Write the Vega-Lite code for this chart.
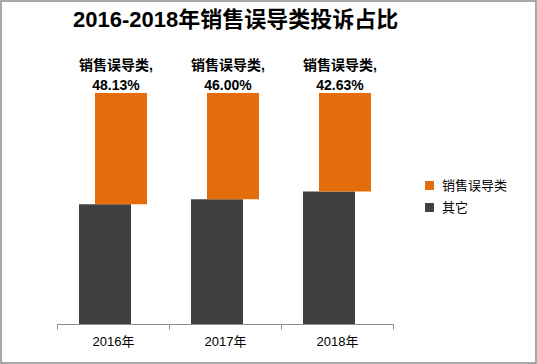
{
  "$schema": "https://vega.github.io/schema/vega-lite/v6.json",
  "width": 535,
  "height": 362,
  "padding": 1,
  "autosize": {"type": "none"},
  "background": "white",
  "config": {
    "view": {"stroke": "#8c8c8c", "strokeWidth": 1.5},
    "font": "Liberation Sans, Noto Sans CJK SC"
  },
  "title": {
    "text": "2016-2018年销售误导类投诉占比",
    "orient": "none",
    "anchor": "start",
    "dx": 72,
    "dy": 31,
    "baseline": "bottom",
    "font": "Liberation Sans, Noto Sans CJK SC",
    "fontSize": 22,
    "fontWeight": "bold",
    "color": "#000000"
  },
  "data": {
    "values": [
      {"year": "2016年", "series": "其它", "value": 0.5187},
      {"year": "2016年", "series": "销售误导类", "value": 0.4813},
      {"year": "2017年", "series": "其它", "value": 0.54},
      {"year": "2017年", "series": "销售误导类", "value": 0.46},
      {"year": "2018年", "series": "其它", "value": 0.5737},
      {"year": "2018年", "series": "销售误导类", "value": 0.4263}
    ]
  },
  "transform": [
    {"stack": "value", "groupby": ["year"], "sort": [{"field": "series", "order": "ascending"}], "as": ["v0", "v1"]}
  ],
  "encoding": {
    "x": {
      "field": "year",
      "type": "nominal",
      "scale": {"type": "band", "range": [56, 392], "paddingInner": 0, "paddingOuter": 0},
      "axis": {
        "title": null,
        "offset": -39,
        "labelAngle": 0,
        "labelFontSize": 13,
        "labelColor": "#000000",
        "labelPadding": 6,
        "domainColor": "#8c8c8c",
        "tickColor": "#8c8c8c",
        "tickSize": 5,
        "tickBand": "extent",
        "grid": false
      }
    }
  },
  "layer": [
    {
      "transform": [{"filter": "datum.series === '其它'"}],
      "mark": {"type": "bar", "width": 52, "xOffset": -8},
      "encoding": {
        "y": {"field": "v0", "type": "quantitative", "scale": {"domain": [0, 1], "range": [323, 92]}, "axis": null},
        "y2": {"field": "v1"},
        "color": {
          "field": "series",
          "type": "nominal",
          "scale": {"domain": ["销售误导类", "其它"], "range": ["#E46C0A", "#404040"]},
          "legend": {
            "title": null,
            "orient": "none",
            "legendX": 422,
            "legendY": 178,
            "symbolType": "square",
            "symbolSize": 80,
            "symbolStrokeWidth": 0,
            "labelFontSize": 13,
            "labelColor": "#000000",
            "labelFont": "Noto Sans CJK SC",
            "rowPadding": 8,
            "labelOffset": 6
          }
        }
      }
    },
    {
      "transform": [{"filter": "datum.series === '销售误导类'"}],
      "mark": {"type": "bar", "width": 52, "xOffset": 8},
      "encoding": {
        "y": {"field": "v0", "type": "quantitative", "scale": {"domain": [0, 1], "range": [323, 92]}, "axis": null},
        "y2": {"field": "v1"},
        "color": {"field": "series", "type": "nominal"}
      }
    },
    {
      "transform": [
        {"filter": "datum.series === '销售误导类'"},
        {"calculate": "datum.series + ',\\n' + format(datum.value, '.2%')", "as": "label"}
      ],
      "mark": {
        "type": "text",
        "xOffset": 3,
        "dy": -20,
        "baseline": "bottom",
        "align": "center",
        "fontSize": 14,
        "fontWeight": "bold",
        "lineBreak": "\n",
        "lineHeight": 20,
        "color": "#000000"
      },
      "encoding": {
        "y": {"field": "v1", "type": "quantitative"},
        "text": {"field": "label"}
      }
    }
  ]
}
